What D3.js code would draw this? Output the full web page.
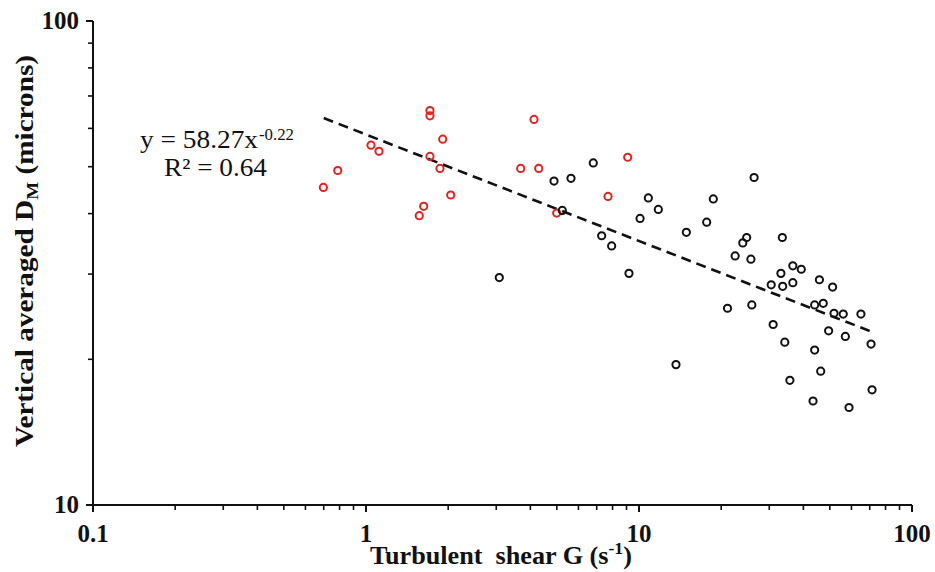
<!DOCTYPE html>
<html>
<head>
<meta charset="utf-8">
<script src="https://cdn.jsdelivr.net/npm/d3@7"></script>
<style>
  body { margin: 0; background: #fff; }
  svg { display: block; }
  text { font-family: "Liberation Serif", "Times New Roman", serif; fill: #111; }
</style>
</head>
<body>
<div id="chart"></div>
<script>
// Turbulent shear G (s-1) vs vertical averaged DM (microns)
var redG = [0.698, 0.788, 1.043, 1.116, 1.715, 1.715, 1.910, 1.715, 1.866, 2.043, 1.627, 1.567,
            4.125, 3.687, 4.292, 4.995, 7.70, 9.09];
var redD = [45.3, 49.1, 55.4, 53.8, 65.3, 63.7, 57.0, 52.5, 49.6, 43.7, 41.4, 39.6,
            62.6, 49.6, 49.6, 40.1, 43.4, 52.3];

var blackG = [3.078, 4.883, 5.635, 6.80, 5.236, 7.30, 7.94, 9.19, 10.09, 10.82, 11.77,
              26.4, 18.72, 17.70, 14.91, 13.66, 24.8, 24.0, 22.5, 25.7, 33.5, 21.1, 25.9,
              36.6, 39.3, 33.1, 30.5, 33.6, 36.6, 45.8, 51.2, 44.0, 47.3, 51.8, 56.0, 65.0,
              31.0, 49.5, 57.0, 70.8, 34.2, 44.0, 46.3, 35.7, 43.4, 58.8, 71.4];
var blackD = [29.5, 46.7, 47.3, 50.9, 40.6, 36.0, 34.3, 30.1, 39.1, 43.1, 40.8,
              47.5, 42.9, 38.4, 36.6, 19.5, 35.7, 34.8, 32.7, 32.2, 35.7, 25.5, 25.9,
              31.2, 30.7, 30.1, 28.5, 28.3, 28.8, 29.2, 28.2, 25.9, 26.1, 24.9, 24.8, 24.8,
              23.6, 22.9, 22.3, 21.5, 21.7, 20.9, 18.9, 18.1, 16.4, 15.9, 17.3];

// power trendline y = a x^b, drawn over the fitted range
var trendA = 58.27;
var trendB = -0.22;
var trendRange = [0.7, 72.6];

var xTicks = [0.1, 1, 10, 100];
var yTicks = [10, 100];

var W = 935, H = 572;
// note: "top" is taken by window.top, so keep these names distinct
var pLeft = 93, pRight = 912, pTop = 21, pBottom = 505;

var svg = d3.select("#chart").append("svg")
  .attr("width", W)
  .attr("height", H);

var x = d3.scaleLog().domain([0.1, 100]).range([pLeft, pRight]);
var y = d3.scaleLog().domain([10, 100]).range([pBottom, pTop]);

// minor ticks: every integer multiple inside each decade
var xMinor = x.ticks().filter(function (v) { return xTicks.indexOf(v) < 0; });
var yMinor = y.ticks().filter(function (v) { return yTicks.indexOf(v) < 0; });

var ax = svg.append("g");

// x axis
ax.append("line")
  .attr("x1", pLeft - 7).attr("x2", pRight)
  .attr("y1", pBottom).attr("y2", pBottom)
  .attr("stroke", "#111").attr("stroke-width", 2);
ax.selectAll(".xmaj").data(xTicks).join("line")
  .attr("x1", function (d) { return x(d); }).attr("x2", function (d) { return x(d); })
  .attr("y1", pBottom).attr("y2", pBottom + 7)
  .attr("stroke", "#111").attr("stroke-width", 2);
ax.selectAll(".xmin").data(xMinor).join("line")
  .attr("x1", function (d) { return x(d); }).attr("x2", function (d) { return x(d); })
  .attr("y1", pBottom).attr("y2", pBottom + 5)
  .attr("stroke", "#111").attr("stroke-width", 1.6);
ax.selectAll(".xlab").data(xTicks).join("text")
  .attr("x", function (d) { return x(d); })
  .attr("y", 542)
  .attr("text-anchor", "middle")
  .attr("font-size", 25)
  .attr("font-weight", "bold")
  .text(function (d) { return d; });

// y axis
ax.append("line")
  .attr("x1", pLeft).attr("x2", pLeft)
  .attr("y1", pTop).attr("y2", pBottom + 7)
  .attr("stroke", "#111").attr("stroke-width", 2);
ax.selectAll(".ymaj").data(yTicks).join("line")
  .attr("x1", pLeft - 7).attr("x2", pLeft)
  .attr("y1", function (d) { return y(d); }).attr("y2", function (d) { return y(d); })
  .attr("stroke", "#111").attr("stroke-width", 2);
ax.selectAll(".ymin").data(yMinor).join("line")
  .attr("x1", pLeft - 5).attr("x2", pLeft)
  .attr("y1", function (d) { return y(d); }).attr("y2", function (d) { return y(d); })
  .attr("stroke", "#111").attr("stroke-width", 1.6);
ax.selectAll(".ylab").data(yTicks).join("text")
  .attr("x", 79)
  .attr("y", function (d) { return y(d) + 8; })
  .attr("text-anchor", "end")
  .attr("font-size", 25)
  .attr("font-weight", "bold")
  .text(function (d) { return d; });

// axis titles
var xt = svg.append("text")
  .attr("x", 501).attr("y", 564)
  .attr("text-anchor", "middle")
  .attr("font-size", 25)
  .attr("font-weight", "bold")
  .attr("textLength", 262)
  .attr("lengthAdjust", "spacingAndGlyphs");
xt.append("tspan").text("Turbulent\u00a0 shear G (s");
xt.append("tspan").attr("dy", -10).attr("font-size", 17).text("-1");
xt.append("tspan").attr("dy", 10).text(")");

var yt = svg.append("text")
  .attr("transform", "translate(33,251) rotate(-90)")
  .attr("text-anchor", "middle")
  .attr("font-size", 26)
  .attr("font-weight", "bold")
  .attr("textLength", 392)
  .attr("lengthAdjust", "spacingAndGlyphs");
yt.append("tspan").text("Vertical averaged D");
yt.append("tspan").attr("dy", 5).attr("font-size", 17).text("M");
yt.append("tspan").attr("dy", -5).text(" (microns)");

// trendline
var trend = trendRange.map(function (g) { return [g, trendA * Math.pow(g, trendB)]; });
svg.append("path")
  .datum(trend)
  .attr("fill", "none")
  .attr("stroke", "#111")
  .attr("stroke-width", 2.6)
  .attr("stroke-dasharray", "10,6")
  .attr("d", d3.line()
    .x(function (d) { return x(d[0]); })
    .y(function (d) { return y(d[1]); }));

// points: red first, black on top
function dots(gs, ds, color) {
  svg.append("g").selectAll("circle")
    .data(gs.map(function (g, i) { return [g, ds[i]]; }))
    .join("circle")
    .attr("cx", function (d) { return x(d[0]); })
    .attr("cy", function (d) { return y(d[1]); })
    .attr("r", 3.6)
    .attr("fill", "none")
    .attr("stroke", color)
    .attr("stroke-width", 2);
}
dots(redG, redD, "#e3211d");
dots(blackG, blackD, "#111");

// equation
svg.append("text")
  .attr("x", 140).attr("y", 148)
  .attr("font-size", 25)
  .attr("textLength", 118)
  .attr("lengthAdjust", "spacingAndGlyphs")
  .text("y = 58.27x");
svg.append("text")
  .attr("x", 259).attr("y", 140)
  .attr("font-size", 16)
  .attr("textLength", 35)
  .attr("lengthAdjust", "spacingAndGlyphs")
  .text("-0.22");
svg.append("text")
  .attr("x", 164).attr("y", 176)
  .attr("font-size", 25)
  .attr("textLength", 103)
  .attr("lengthAdjust", "spacingAndGlyphs")
  .text("R\u00b2 = 0.64");
</script>
</body>
</html>
